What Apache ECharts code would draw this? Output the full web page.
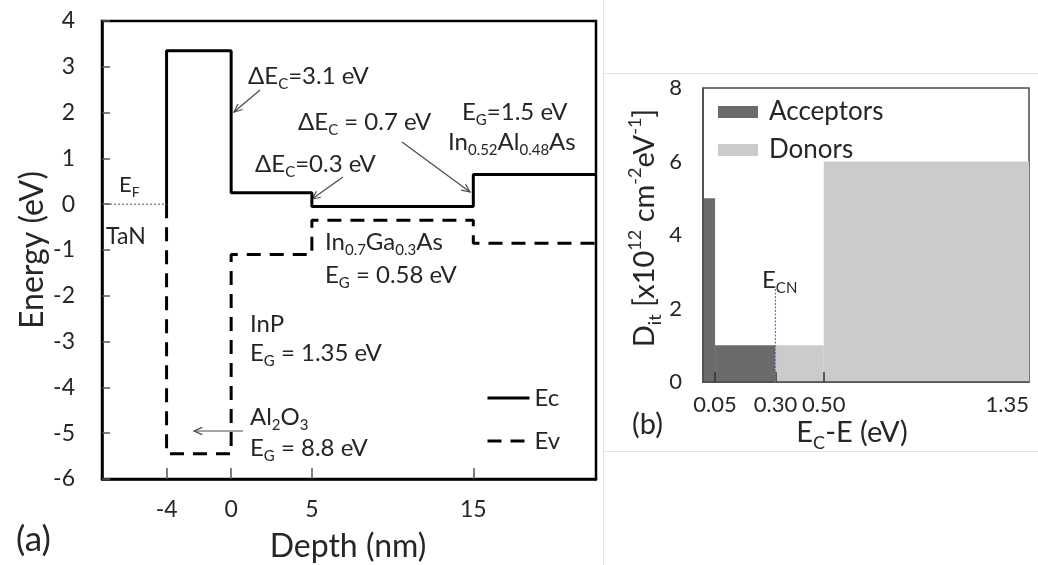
<!DOCTYPE html>
<html>
<head>
<meta charset="utf-8">
<script src="https://cdn.jsdelivr.net/npm/echarts@6/dist/echarts.min.js"></script>
<style>
  html, body { margin: 0; padding: 0; background: #fff; }
  #chart { width: 1038px; height: 565px; }
</style>
</head>
<body>
<div id="chart"></div>
<script>
// (a) band diagram of the TaN / Al2O3 / InP / In0.7Ga0.3As / In0.52Al0.48As stack
const depthEc = [-4, -4, 0, 0, 5, 5, 15, 15, 22.6];
const energyEc = [0, 3.35, 3.35, 0.25, 0.25, -0.05, -0.05, 0.65, 0.65];
const depthEv = [-4, -4, 0, 0, 5, 5, 15, 15, 22.6];
const energyEv = [0, -5.45, -5.45, -1.1, -1.1, -0.35, -0.35, -0.85, -0.85];
const fermiDepth = [-8, -4];
const fermiEnergy = [0, 0];
const depthTicks = [-4, 0, 5, 15];

// (b) interface trap density profile
const acceptorFrom = [0, 0.05];
const acceptorTo = [0.05, 0.30];
const acceptorDit = [5, 1];
const donorFrom = [0.30, 0.50];
const donorTo = [0.50, 1.35];
const donorDit = [1, 6];
const ecnLevel = [0.30, 0.30];
const ecnDit = [0, 2.6];
const trapTicks = [0.05, 0.30, 0.50];
const trapLabels = [0.05, 0.30, 0.50, 1.35];

const FONT = 'Lato, "Open Sans", sans-serif';
const INK = '#262626';

const zip = (xs, ys) => xs.map((x, i) => [x, ys[i]]);
const bars = (a, b, v) => a.map((x, i) => [x, b[i], v[i]]);

// rich styles: n = normal, s = subscript, p = superscript
function richFor(size) {
  const small = Math.round(size * 0.62);
  const pad = Math.round(size * 0.7);
  return {
    n: { fontSize: size, lineHeight: size, fontFamily: FONT, fill: INK },
    s: { fontSize: small, fontFamily: FONT, fill: INK,
         verticalAlign: 'bottom', padding: [pad, 0, 0, 0] },
    p: { fontSize: small, fontFamily: FONT, fill: INK,
         verticalAlign: 'top', padding: [0, 0, Math.round(size * 0.55), 0] }
  };
}

function label(x, y, text, size, opts) {
  opts = opts || {};
  return {
    type: 'text', x: x, y: y, rotation: opts.rotation || 0, z: 20,
    style: {
      text: text, rich: richFor(size), fontFamily: FONT, fontSize: size, fill: INK,
      align: opts.align || 'left', verticalAlign: 'middle'
    }
  };
}

function arrow(x1, y1, x2, y2) {
  const ang = Math.atan2(y2 - y1, x2 - x1);
  const h = 9, spread = 0.42;
  const a1 = [x2 - h * Math.cos(ang - spread), y2 - h * Math.sin(ang - spread)];
  const a2 = [x2 - h * Math.cos(ang + spread), y2 - h * Math.sin(ang + spread)];
  const st = { stroke: '#4a4a4a', lineWidth: 1.2, fill: null };
  return {
    type: 'group', z: 20, children: [
      { type: 'line', shape: { x1: x1, y1: y1, x2: x2, y2: y2 }, style: st },
      { type: 'polyline', shape: { points: [a1, [x2, y2], a2] }, style: st }
    ]
  };
}

const frame = { stroke: '#e4e4e4', lineWidth: 1 };

const chart = echarts.init(document.getElementById('chart'));
chart.setOption({
  animation: false,
  backgroundColor: '#fff',
  textStyle: { fontFamily: FONT },
  grid: [
    { left: 102, top: 21, width: 494, height: 458, show: true,
      borderColor: '#000', borderWidth: 2.5, containLabel: false },
    { left: 703, top: 88, width: 326, height: 294, show: true,
      borderColor: '#4a4a4a', borderWidth: 1.5, containLabel: false }
  ],
  xAxis: [
    {
      gridIndex: 0, type: 'value', min: -8, max: 22.6, z: 5,
      axisLine: { onZero: false, lineStyle: { color: '#000', width: 2.5 } },
      axisTick: { show: true, inside: true, length: 11, customValues: depthTicks,
                  lineStyle: { color: '#555', width: 1.5 } },
      axisLabel: { customValues: depthTicks, fontSize: 23, color: INK, margin: 19,
                   fontFamily: FONT },
      splitLine: { show: false }
    },
    {
      gridIndex: 1, type: 'value', min: 0, max: 1.35, z: 5,
      axisLine: { onZero: false, lineStyle: { color: '#4a4a4a', width: 1.5 } },
      axisTick: { show: true, inside: true, length: 10, customValues: trapTicks,
                  lineStyle: { color: '#333', width: 1.5 } },
      axisLabel: { customValues: trapLabels, fontSize: 22, color: INK, margin: 12,
                   fontFamily: FONT, alignMaxLabel: 'right',
                   formatter: v => v.toFixed(2) },
      splitLine: { show: false }
    }
  ],
  yAxis: [
    {
      gridIndex: 0, type: 'value', min: -6, max: 4, interval: 1, z: 5,
      axisLine: { onZero: false, lineStyle: { color: '#000', width: 2.5 } },
      axisTick: { show: true, inside: true, length: 8, lineStyle: { color: '#555', width: 1.5 } },
      axisLabel: { fontSize: 23, color: INK, margin: 27, fontFamily: FONT },
      splitLine: { show: false }
    },
    {
      gridIndex: 1, type: 'value', min: 0, max: 8, interval: 2, z: 5,
      axisLine: { onZero: false, lineStyle: { color: '#4a4a4a', width: 1.5 } },
      axisTick: { show: false },
      axisLabel: { fontSize: 22, color: INK, margin: 21, fontFamily: FONT },
      splitLine: { show: false }
    }
  ],
  legend: [
    {
      data: ['Ec', 'Ev'], orient: 'vertical', left: 481, top: 381,
      itemWidth: 42, itemHeight: 14, itemGap: 19, selectedMode: false,
      itemStyle: { opacity: 0 },
      lineStyle: { width: 3 },
      textStyle: { fontSize: 24, color: INK, fontFamily: FONT, lineHeight: 24 }
    },
    {
      data: ['Acceptors', 'Donors'], orient: 'vertical', left: 713, top: 94,
      icon: 'rect', itemWidth: 40, itemHeight: 12, itemGap: 12, selectedMode: false,
      textStyle: { fontSize: 26, color: INK, fontFamily: FONT, lineHeight: 26,
                   padding: [0, 0, 0, 6] }
    }
  ],
  series: [
    {
      name: 'EF', type: 'line', xAxisIndex: 0, yAxisIndex: 0, data: zip(fermiDepth, fermiEnergy),
      symbol: 'none', lineStyle: { color: '#8a8a8a', width: 1.5, type: [2, 2] }, z: 3
    },
    {
      name: 'Ec', type: 'line', xAxisIndex: 0, yAxisIndex: 0, data: zip(depthEc, energyEc),
      symbol: 'none', color: '#000', lineStyle: { color: '#000', width: 3 }, z: 4
    },
    {
      name: 'Ev', type: 'line', xAxisIndex: 0, yAxisIndex: 0, data: zip(depthEv, energyEv),
      symbol: 'none', color: '#000', lineStyle: { color: '#000', width: 3, type: [14, 9] }, z: 4
    },
    {
      name: 'Acceptors', type: 'custom', xAxisIndex: 1, yAxisIndex: 1,
      data: bars(acceptorFrom, acceptorTo, acceptorDit), color: '#6b6b6b',
      encode: { x: [0, 1], y: 2 },
      renderItem: barItem
    },
    {
      name: 'Donors', type: 'custom', xAxisIndex: 1, yAxisIndex: 1,
      data: bars(donorFrom, donorTo, donorDit), color: '#cbcbcb',
      encode: { x: [0, 1], y: 2 },
      renderItem: barItem
    },
    {
      name: 'ECN', type: 'line', xAxisIndex: 1, yAxisIndex: 1, data: zip(ecnLevel, ecnDit),
      symbol: 'none', lineStyle: { color: '#5d7fa6', width: 1.2, type: [2, 1.5] }, z: 6
    }
  ],
  graphic: [
    // panel separators
    { type: 'line', shape: { x1: 603.5, y1: 0, x2: 603.5, y2: 565 }, style: frame, z: 0 },
    { type: 'line', shape: { x1: 603, y1: 73.5, x2: 1038, y2: 73.5 }, style: frame, z: 0 },
    { type: 'line', shape: { x1: 603, y1: 451.5, x2: 1038, y2: 451.5 }, style: frame, z: 0 },

    // panel (a) titles
    label(33, 250, '{n|Energy (eV)}', 32, { rotation: Math.PI / 2, align: 'center' }),
    label(348, 547, '{n|Depth (nm)}', 32, { align: 'center' }),
    label(16, 540, '{n|(a)}', 35),

    // panel (a) annotations
    label(119, 185, '{n|E}{s|F}', 22),
    label(106, 237, '{n|TaN}', 23),
    label(248, 76, '{n|ΔE}{s|C}{n|=3.1 eV}', 24),
    arrow(260, 90, 234, 112),
    label(298, 122, '{n|ΔE}{s|C}{n| = 0.7 eV}', 24),
    arrow(402, 142, 470, 192),
    label(255, 164, '{n|ΔE}{s|C}{n|=0.3 eV}', 24),
    arrow(343, 177, 312, 199),
    label(462, 112, '{n|E}{s|G}{n|=1.5 eV}', 24),
    label(448, 142, '{n|In}{s|0.52}{n|Al}{s|0.48}{n|As}', 24),
    label(325, 242, '{n|In}{s|0.7}{n|Ga}{s|0.3}{n|As}', 24),
    label(325, 275, '{n|E}{s|G}{n| = 0.58 eV}', 24),
    label(250, 324, '{n|InP}', 24),
    label(250, 353, '{n|E}{s|G}{n| = 1.35 eV}', 24),
    label(250, 417, '{n|Al}{s|2}{n|O}{s|3}', 24),
    arrow(243, 431, 194, 431),
    label(250, 448, '{n|E}{s|G}{n| = 8.8 eV}', 24),

    // panel (b) titles and notes
    label(645, 228, '{n|D}{s|it}{n| [x10}{p|12}{n| cm}{p|-2}{n|eV}{p|-1}{n|]}', 29,
          { rotation: Math.PI / 2, align: 'center' }),
    label(852, 433, '{n|E}{s|C}{n|-E (eV)}', 29, { align: 'center' }),
    label(632, 425, '{n|(b)}', 29),
    label(762, 280, '{n|E}{s|CN}', 24)
  ]
});

function barItem(params, api) {
  const top = api.coord([api.value(0), api.value(2)]);
  const base = api.coord([api.value(1), 0]);
  return {
    type: 'rect',
    shape: { x: top[0], y: top[1], width: base[0] - top[0], height: base[1] - top[1] },
    style: api.style()
  };
}
</script>
</body>
</html>
